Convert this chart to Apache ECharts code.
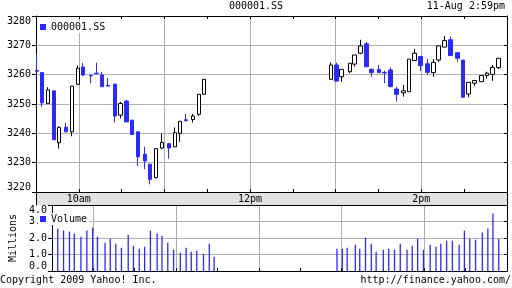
<!DOCTYPE html>
<html>
<head>
<meta charset="utf-8">
<script src="https://cdn.jsdelivr.net/npm/echarts@6/dist/echarts.min.js"></script>
<style>
html,body{margin:0;padding:0;background:#fff;}
#c{width:512px;height:288px;}
</style>
</head>
<body>
<div id="c"></div>
<script>
// ---- data ----
// time of each candle, in minutes after the 9:30 open
const minutesAfterOpen = [
  0.7, 4.2, 8.4, 12.7, 16.2, 21.0, 25.3, 29.5, 33.0, 38.5, 42.3, 46.3, 50.4, 55.3, 59.1,
  63.3, 67.2, 71.4, 76.3, 79.8, 84.0, 88.2, 93.1, 97.3, 101.0, 105.0, 109.9, 114.1, 117.6,
  206.7, 210.6, 214.1, 220.0, 223.2, 227.4, 231.6, 235.1, 240.3, 244.2, 248.4, 252.6, 257.5,
  261.3, 265.2, 269.4, 274.3, 278.5, 282.0, 286.2, 290.4, 295.3, 299.1, 303.0, 307.2, 312.1,
  316.1, 319.8, 324.0
];
const openPrices = [
  3261.4, 3260.7, 3250.2, 3254.5, 3236.8, 3242.1, 3240.5, 3256.7, 3262.6, 3259.8, 3260.5, 3259.9, 3256.3, 3256.8, 3246.2,
  3251.0, 3244.5, 3240.5, 3232.9, 3229.5, 3224.9, 3235.0, 3236.5, 3235.4, 3240.0, 3244.6, 3244.7, 3246.5, 3253.3,
  3258.4, 3263.3, 3259.3, 3261.0, 3263.6, 3267.3, 3270.5, 3261.8, 3261.8, 3260.8, 3261.6, 3255.1, 3253.8,
  3254.2, 3264.8, 3266.2, 3263.7, 3260.7, 3265.0, 3269.4, 3271.9, 3267.5, 3265.0, 3253.4, 3257.1, 3257.6,
  3259.7, 3260.1, 3262.4
];
const closePrices = [
  3261.2, 3250.4, 3254.8, 3237.8, 3242.0, 3240.5, 3256.1, 3262.2, 3259.9, 3259.6, 3260.3, 3255.9, 3256.1, 3245.9, 3250.2,
  3243.9, 3239.6, 3232.0, 3230.6, 3224.3, 3234.8, 3236.9, 3235.0, 3240.2, 3244.1, 3244.4, 3245.9, 3253.3, 3258.4,
  3263.3, 3257.8, 3261.8, 3263.9, 3266.7, 3269.8, 3262.7, 3260.7, 3260.7, 3260.6, 3255.9, 3253.3, 3254.5,
  3265.3, 3267.3, 3263.1, 3260.8, 3264.2, 3269.8, 3271.6, 3266.5, 3265.6, 3252.3, 3257.4, 3258.0, 3259.7,
  3260.5, 3262.5, 3265.6
];
const lowPrices = [
  3261.2, 3249.1, 3250.2, 3237.8, 3234.8, 3240.5, 3239.0, 3256.7, 3259.6, 3257.1, 3260.3, 3255.9, 3256.1, 3243.7, 3245.1,
  3243.9, 3239.6, 3228.9, 3227.8, 3222.6, 3224.6, 3234.6, 3231.4, 3235.4, 3237.1, 3243.9, 3243.7, 3246.0, 3253.3,
  3258.4, 3257.8, 3257.5, 3260.5, 3262.7, 3267.0, 3262.7, 3259.3, 3260.7, 3257.1, 3255.9, 3250.8, 3252.5,
  3254.2, 3264.8, 3261.3, 3259.9, 3259.3, 3264.4, 3269.4, 3266.5, 3264.4, 3252.3, 3252.3, 3256.2, 3257.6,
  3258.6, 3257.9, 3261.9
];
const highPrices = [
  3267.1, 3260.7, 3255.7, 3254.5, 3242.4, 3243.6, 3256.1, 3263.1, 3264.0, 3260.0, 3264.1, 3261.0, 3258.9, 3256.8, 3250.7,
  3251.4, 3244.5, 3240.8, 3235.4, 3229.5, 3234.8, 3240.0, 3236.5, 3242.0, 3244.1, 3246.6, 3246.6, 3253.3, 3258.4,
  3264.2, 3264.1, 3261.8, 3263.9, 3266.7, 3271.9, 3271.1, 3262.1, 3263.3, 3261.4, 3262.5, 3255.9, 3256.5,
  3265.3, 3268.8, 3266.2, 3265.4, 3265.3, 3269.8, 3273.2, 3273.0, 3267.5, 3265.0, 3257.4, 3258.0, 3259.7,
  3261.0, 3263.3, 3265.6
];
// volume in millions (first one hidden behind the axis, unreadable)
const volumeMillions = [
  null, 2.57, 2.45, 2.39, 2.27, 2.08, 2.45, 2.63, 2.08, 1.71, 1.96, 1.65, 1.41, 2.20, 1.53,
  1.35, 1.47, 2.45, 2.27, 2.14, 1.71, 1.29, 1.10, 1.41, 1.16, 1.22, 1.04, 1.65, 0.86,
  1.35, 1.35, 1.41, 1.59, 1.35, 2.02, 1.65, 1.16, 1.29, 1.35, 1.29, 1.65, 1.29,
  1.53, 1.96, 1.29, 1.59, 1.47, 1.65, 1.84, 1.84, 1.59, 2.45, 1.96, 1.90, 2.33,
  2.57, 3.49, 1.96
];
const xLabelMinutes = [30, 150, 270];
const xLabelTexts = ['10am', '12pm', '2pm'];
const symbolName = '000001.SS';
const volumeName = 'Volume';

// ---- chart ----
const mono = "'DejaVu Sans Mono', monospace";
const blue = '#2a2aff';
const gridGray = '#b0b0b0';
const black = '#000';

const candleData = minutesAfterOpen.map((m, i) => [m, openPrices[i], closePrices[i], lowPrices[i], highPrices[i]]);
const volumeData = [];
minutesAfterOpen.forEach((m, i) => { if (volumeMillions[i] != null) volumeData.push([m, volumeMillions[i]]); });

const lineBlack = { show: true, onZero: false, lineStyle: { color: black, width: 1 } };
const xBase = { type: 'value', min: 0, max: 330, interval: 30 };
const txt = { fontFamily: mono, fontSize: 10, color: black, fontWeight: 'normal' };

const chart = echarts.init(document.getElementById('c'), null, { renderer: 'canvas' });
chart.setOption({
  animation: false,
  backgroundColor: '#fff',
  textStyle: { fontFamily: mono, fontSize: 10, color: black },
  title: [
    { text: symbolName, left: 'center', top: 1, padding: 0, textStyle: txt },
    { text: '11-Aug 2:59pm', right: 7, top: 1, padding: 0, textStyle: txt },
    { text: 'Copyright 2009 Yahoo! Inc.', left: 0, top: 275, padding: 0, textStyle: txt },
    { text: 'http://finance.yahoo.com/', right: 1, top: 275, padding: 0, textStyle: txt }
  ],
  legend: [
    {
      data: [{ name: symbolName, icon: 'rect', itemStyle: { color: blue, borderWidth: 0 } }],
      left: 38, top: 21, padding: [1, 2, 1, 2], itemWidth: 6, itemHeight: 6,
      backgroundColor: '#fff', selectedMode: false, textStyle: txt
    },
    {
      data: [{ name: volumeName, icon: 'rect', itemStyle: { color: blue, borderWidth: 0 } }],
      left: 38, top: 213, padding: [1, 2, 1, 2], itemWidth: 6, itemHeight: 6,
      backgroundColor: '#fff', selectedMode: false, textStyle: txt
    }
  ],
  grid: [
    { left: 36, right: 5, top: 16, height: 176 },
    { left: 36, right: 5, top: 192, height: 13, show: true, backgroundColor: '#e2e2e2', borderWidth: 0, z: -1 },
    { left: 36, right: 5, top: 205, height: 66 }
  ],
  xAxis: [
    Object.assign({}, xBase, {
      gridIndex: 0, position: 'bottom', z: 1,
      axisLine: lineBlack,
      axisTick: { show: true, inside: true, length: 3, lineStyle: { color: black } },
      axisLabel: {
        show: true, margin: 2, fontFamily: mono, fontSize: 10, color: black,
        formatter: v => { const k = xLabelMinutes.indexOf(Math.round(v)); return k >= 0 ? xLabelTexts[k] : ''; }
      },
      splitLine: { show: true, lineStyle: { color: ['rgba(0,0,0,0)', gridGray], width: 1 } }
    }),
    Object.assign({}, xBase, {
      gridIndex: 0, position: 'top', z: 2,
      axisLine: lineBlack,
      axisTick: { show: true, inside: true, length: 3, lineStyle: { color: black } },
      axisLabel: { show: false }, splitLine: { show: false }
    }),
    Object.assign({}, xBase, { gridIndex: 1, show: false }),
    Object.assign({}, xBase, {
      gridIndex: 2, position: 'bottom', z: 1,
      axisLine: lineBlack,
      axisTick: { show: true, inside: true, length: 3, lineStyle: { color: black } },
      axisLabel: { show: false },
      splitLine: { show: true, lineStyle: { color: ['rgba(0,0,0,0)', gridGray], width: 1 } }
    }),
    Object.assign({}, xBase, {
      gridIndex: 2, position: 'top', z: 2,
      axisLine: lineBlack, axisTick: { show: false },
      axisLabel: { show: false }, splitLine: { show: false }
    })
  ],
  yAxis: [
    {
      gridIndex: 0, type: 'value', min: 3220, max: 3280, interval: 10, position: 'left', z: 0,
      axisLine: lineBlack,
      axisTick: { show: true, inside: false, length: 4, lineStyle: { color: black } },
      axisLabel: { show: true, margin: 5, fontFamily: mono, fontSize: 10, color: black,
        formatter: v => String(v),
        verticalAlignMinLabel: 'bottom', verticalAlignMaxLabel: 'top' },
      splitLine: { show: true, lineStyle: { color: gridGray, width: 1 } }
    },
    {
      gridIndex: 0, type: 'value', min: 3220, max: 3280, interval: 10, position: 'right', z: 2,
      axisLine: lineBlack,
      axisTick: { show: true, inside: true, length: 3, lineStyle: { color: black } },
      axisLabel: { show: false }, splitLine: { show: false }
    },
    {
      gridIndex: 1, type: 'value', min: 0, max: 1, position: 'left', z: 2,
      axisLine: lineBlack, axisTick: { show: false }, axisLabel: { show: false }, splitLine: { show: false }
    },
    {
      gridIndex: 1, type: 'value', min: 0, max: 1, position: 'right', z: 2,
      axisLine: lineBlack, axisTick: { show: false }, axisLabel: { show: false }, splitLine: { show: false }
    },
    {
      gridIndex: 2, type: 'value', min: 0, max: 4, interval: 1, position: 'left', z: 0,
      name: 'Millions', nameLocation: 'middle', nameRotate: 90, nameGap: 23,
      nameTextStyle: { fontFamily: mono, fontSize: 10, color: black },
      axisLine: lineBlack,
      axisTick: { show: true, inside: false, length: 4, lineStyle: { color: black } },
      axisLabel: { show: true, margin: 5, fontFamily: mono, fontSize: 10, color: black,
        formatter: v => v.toFixed(1), verticalAlignMaxLabel: 'top', verticalAlignMinLabel: 'bottom' },
      splitLine: { show: true, lineStyle: { color: gridGray, width: 1 } }
    },
    {
      gridIndex: 2, type: 'value', min: 0, max: 4, interval: 1, position: 'right', z: 2,
      axisLine: lineBlack,
      axisTick: { show: true, inside: true, length: 3, lineStyle: { color: black } },
      axisLabel: { show: false }, splitLine: { show: false }
    }
  ],
  series: [
    {
      type: 'candlestick', name: symbolName, xAxisIndex: 0, yAxisIndex: 0,
      data: candleData, barWidth: 4,
      itemStyle: { color: '#fff', color0: blue, borderColor: black, borderColor0: blue, borderWidth: 1 }
    },
    {
      type: 'bar', name: volumeName, xAxisIndex: 3, yAxisIndex: 4,
      data: volumeData, barWidth: 1.3, itemStyle: { color: blue }
    }
  ]
});
</script>
</body>
</html>
